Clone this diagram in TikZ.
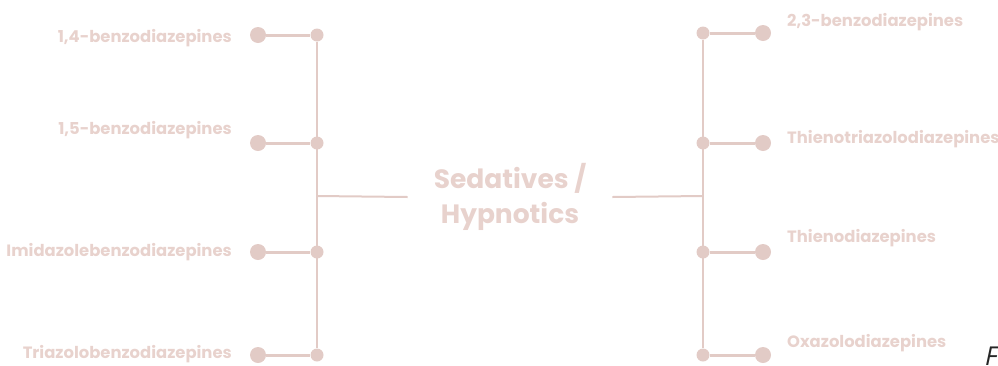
\documentclass[tikz,border=0pt]{standalone}
\usepackage{fontspec}
\setmainfont{Poppins}
\newfontfamily\capfont{Open Sans}
\usetikzlibrary{positioning}
\definecolor{sedpink}{RGB}{226,203,198}
\definecolor{sedtext}{RGB}{232,210,205}
\tikzset{
      leaf/.style      = {circle, fill=sedpink, minimum size=16pt, inner sep=0pt},   % outer dots
      joint/.style     = {circle, fill=sedpink, minimum size=13pt, inner sep=0pt},   % dots on the spine
      classname/.style = {font=\bfseries\fontsize{16.4}{19}\selectfont, text=sedtext, inner sep=0pt},
      hub/.style       = {font=\bfseries\fontsize{26.5}{35}\selectfont, text=sedtext,
                          align=center, inner xsep=26pt, inner ysep=2pt},
      spine/.style     = {draw=sedpink, line width=2pt},
      twig/.style      = {draw=sedpink, line width=3pt}
    }

\begin{document}
\begin{tikzpicture}[x=1pt, y=-1pt]
  \useasboundingbox (0,0) rectangle (998,365);
  % Centre
  \node[hub] (centre) at (510,197) {Sedatives /\\Hypnotics};
  % Left spine joints
  \node[joint] (jl1) at (317,35) {};
  \node[joint] (jl2) at (317,143) {};
  \node[joint] (jl3) at (317,252) {};
  \node[joint] (jl4) at (317,355) {};
  \coordinate (hl) at (317,196);
  % Left outer dots
  \node[leaf] (ll1) at (258,35) {};
  \node[leaf] (ll2) at (258,143) {};
  \node[leaf] (ll3) at (258,252) {};
  \node[leaf] (ll4) at (258,355) {};
  % Left labels
  \node[classname, anchor=east] (tl1) at (232,38) {1,4-benzodiazepines};
  \node[classname, anchor=east] (tl2) at (232,130) {1,5-benzodiazepines};
  \node[classname, anchor=east] (tl3) at (232,252) {Imidazolebenzodiazepines};
  \node[classname, anchor=east] (tl4) at (232,354) {Triazolobenzodiazepines};
  % Right spine joints
  \node[joint] (jr1) at (703,33) {};
  \node[joint] (jr2) at (703,143) {};
  \node[joint] (jr3) at (703,252) {};
  \node[joint] (jr4) at (703,355) {};
  \coordinate (hr) at (703,196);
  % Right outer dots
  \node[leaf] (lr1) at (763,33) {};
  \node[leaf] (lr2) at (763,143) {};
  \node[leaf] (lr3) at (763,252) {};
  \node[leaf] (lr4) at (763,355) {};
  % Right labels
  \node[classname, anchor=west] (tr1) at (787,22) {2,3-benzodiazepines};
  \node[classname, anchor=west] (tr2) at (787,139) {Thienotriazolodiazepines};
  \node[classname, anchor=west] (tr3) at (787,238) {Thienodiazepines};
  \node[classname, anchor=west] (tr4) at (787,343) {Oxazolodiazepines};
  % Spines
  \draw[spine] (jl1) -- (jl4);
  \draw[spine] (jr1) -- (jr4);
  % Links to the centre
  \draw[spine] (hl) -- (centre.west);
  \draw[spine] (centre.east) -- (hr);
  % Twigs
  \draw[twig] (ll1) -- (jl1);
  \draw[twig] (ll2) -- (jl2);
  \draw[twig] (ll3) -- (jl3);
  \draw[twig] (ll4) -- (jl4);
  \draw[twig] (jr1) -- (lr1);
  \draw[twig] (jr2) -- (lr2);
  \draw[twig] (jr3) -- (lr3);
  \draw[twig] (jr4) -- (lr4);
  % Cut-off caption letter
  \node[font=\capfont\itshape\fontsize{26}{30}\selectfont, text=black!85, anchor=north west, inner sep=0pt] (capf) at (985,347) {F};
\end{tikzpicture}
\end{document}
